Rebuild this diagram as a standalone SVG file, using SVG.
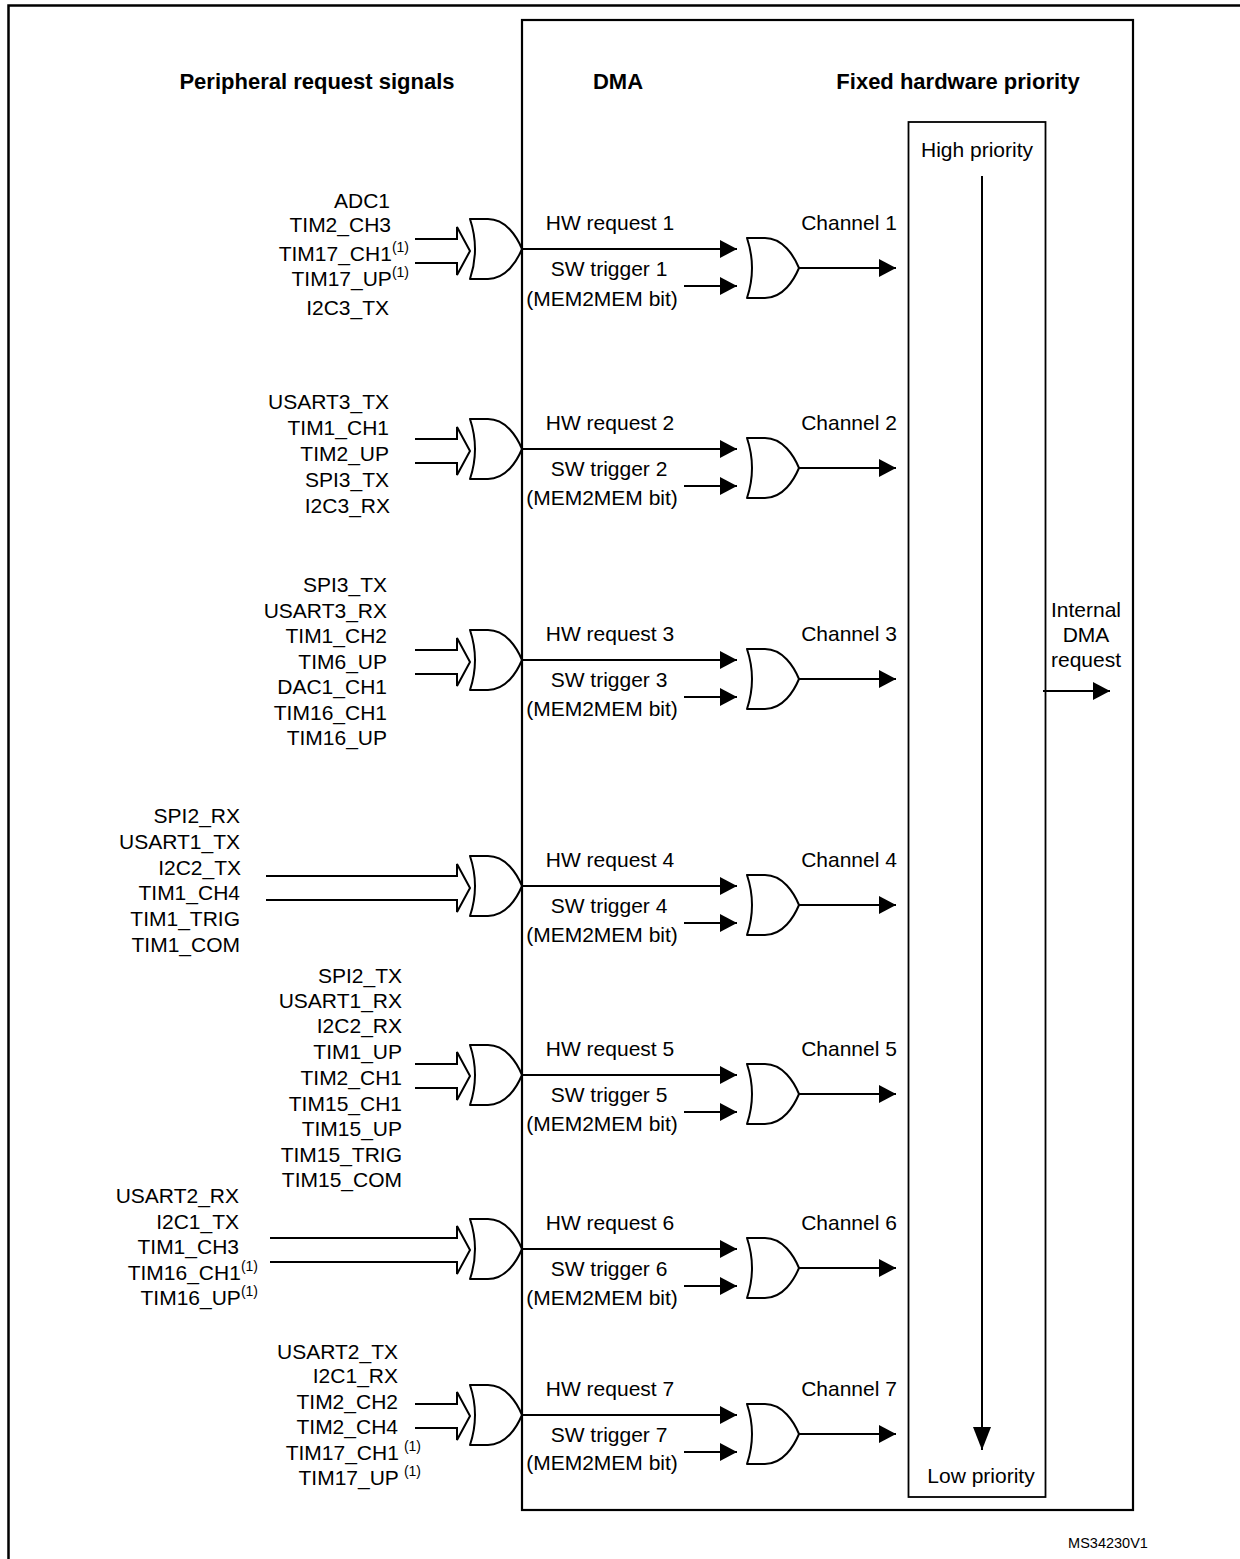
<svg xmlns="http://www.w3.org/2000/svg" xmlns:xlink="http://www.w3.org/1999/xlink" width="1240" height="1559" viewBox="0 0 1240 1559">
<style>
.t{font-family:"Liberation Sans",Arial,sans-serif;font-size:21px;fill:#000}
.h{font-family:"Liberation Sans",Arial,sans-serif;font-size:22px;font-weight:bold;fill:#000}
.s{font-size:14px}
.e{text-anchor:end}
.m{text-anchor:middle}
.ln{fill:none;stroke:#000;stroke-width:2}
.ar{fill:none;stroke:#000;stroke-width:2;marker-end:url(#ah)}
.gate{fill:#fff;stroke:#000;stroke-width:2;stroke-linejoin:round}
</style>
<defs>
<marker id="ah" markerUnits="userSpaceOnUse" markerWidth="17" markerHeight="18" refX="17" refY="9" orient="auto"><path d="M0,0 L17,9 L0,18 Z" fill="#000"/></marker>
<marker id="ahv" markerUnits="userSpaceOnUse" markerWidth="23" markerHeight="18" refX="23" refY="9" orient="auto"><path d="M0,0 L23,9 L0,18 Z" fill="#000"/></marker>
<path id="or" d="M0,0 L18,0 C36,0 47,18 52,30 C47,42 36,60 18,60 L0,60 Q10,30 0,0 Z"/>
</defs>
<rect width="1240" height="1559" fill="#fff"/>

<g id="frame">
<path d="M8.5,1559 V5.5 H1240" fill="none" stroke="#000" stroke-width="2.5"/>
</g>

<g id="headers">
<text class="h m" x="317" y="89">Peripheral request signals</text>
<text class="h m" x="618" y="89">DMA</text>
<text class="h m" x="958" y="89">Fixed hardware priority</text>
</g>

<g id="dma">
<rect x="522" y="20" width="611" height="1490" fill="none" stroke="#000" stroke-width="2.2"/>
</g>

<g id="priority">
<rect x="908.5" y="122" width="137" height="1375" fill="none" stroke="#000" stroke-width="1.8"/>
<text class="t m" x="977" y="157">High priority</text>
<text class="t m" x="981" y="1483">Low priority</text>
</g>

<g id="internal-request">
<text class="t m" x="1086" y="617">Internal</text>
<text class="t m" x="1086" y="642">DMA</text>
<text class="t m" x="1086" y="667">request</text>
</g>

<g id="signals1">
<text class="t e" x="390" y="208">ADC1</text>
<text class="t e" x="391" y="232">TIM2_CH3</text>
<text class="t e" x="409" y="261">TIM17_CH1<tspan class="s" dy="-9">(1)</tspan></text>
<text class="t e" x="409" y="286">TIM17_UP<tspan class="s" dy="-9">(1)</tspan></text>
<text class="t e" x="389" y="315">I2C3_TX</text>
</g>
<g id="signals2">
<text class="t e" x="389" y="409">USART3_TX</text>
<text class="t e" x="389" y="435">TIM1_CH1</text>
<text class="t e" x="389" y="461">TIM2_UP</text>
<text class="t e" x="389" y="487">SPI3_TX</text>
<text class="t e" x="390" y="513">I2C3_RX</text>
</g>
<g id="signals3">
<text class="t e" x="387" y="592">SPI3_TX</text>
<text class="t e" x="387" y="618">USART3_RX</text>
<text class="t e" x="387" y="643">TIM1_CH2</text>
<text class="t e" x="387" y="669">TIM6_UP</text>
<text class="t e" x="387" y="694">DAC1_CH1</text>
<text class="t e" x="387" y="720">TIM16_CH1</text>
<text class="t e" x="387" y="745">TIM16_UP</text>
</g>
<g id="signals4">
<text class="t e" x="240" y="823">SPI2_RX</text>
<text class="t e" x="240" y="849">USART1_TX</text>
<text class="t e" x="241" y="875">I2C2_TX</text>
<text class="t e" x="240" y="900">TIM1_CH4</text>
<text class="t e" x="240" y="926">TIM1_TRIG</text>
<text class="t e" x="240" y="952">TIM1_COM</text>
</g>
<g id="signals5">
<text class="t e" x="402" y="983">SPI2_TX</text>
<text class="t e" x="402" y="1008">USART1_RX</text>
<text class="t e" x="402" y="1033">I2C2_RX</text>
<text class="t e" x="402" y="1059">TIM1_UP</text>
<text class="t e" x="402" y="1085">TIM2_CH1</text>
<text class="t e" x="402" y="1111">TIM15_CH1</text>
<text class="t e" x="402" y="1136">TIM15_UP</text>
<text class="t e" x="402" y="1162">TIM15_TRIG</text>
<text class="t e" x="402" y="1187">TIM15_COM</text>
</g>
<g id="signals6">
<text class="t e" x="239" y="1203">USART2_RX</text>
<text class="t e" x="239" y="1229">I2C1_TX</text>
<text class="t e" x="239" y="1254">TIM1_CH3</text>
<text class="t e" x="258" y="1280">TIM16_CH1<tspan class="s" dy="-9">(1)</tspan></text>
<text class="t e" x="258" y="1305">TIM16_UP<tspan class="s" dy="-9">(1)</tspan></text>
</g>
<g id="signals7">
<text class="t e" x="398" y="1359">USART2_TX</text>
<text class="t e" x="398" y="1383">I2C1_RX</text>
<text class="t e" x="398" y="1409">TIM2_CH2</text>
<text class="t e" x="398" y="1434">TIM2_CH4</text>
<text class="t e" x="421" y="1460">TIM17_CH1<tspan class="s" dx="5" dy="-9">(1)</tspan></text>
<text class="t e" x="421" y="1485">TIM17_UP<tspan class="s" dx="5" dy="-9">(1)</tspan></text>
</g>

<g id="channel1">
<use xlink:href="#or" class="gate" x="470" y="219"/>
<use xlink:href="#or" class="gate" x="747" y="238"/>
<text class="t m" x="610" y="230">HW request 1</text>
<text class="t m" x="609" y="276">SW trigger 1</text>
<text class="t m" x="602" y="306">(MEM2MEM bit)</text>
<text class="t m" x="849" y="230">Channel 1</text>
</g>
<g id="channel2">
<use xlink:href="#or" class="gate" x="470" y="419"/>
<use xlink:href="#or" class="gate" x="747" y="438"/>
<text class="t m" x="610" y="430">HW request 2</text>
<text class="t m" x="609" y="476">SW trigger 2</text>
<text class="t m" x="602" y="505">(MEM2MEM bit)</text>
<text class="t m" x="849" y="430">Channel 2</text>
</g>
<g id="channel3">
<use xlink:href="#or" class="gate" x="470" y="630"/>
<use xlink:href="#or" class="gate" x="747" y="649"/>
<text class="t m" x="610" y="641">HW request 3</text>
<text class="t m" x="609" y="687">SW trigger 3</text>
<text class="t m" x="602" y="716">(MEM2MEM bit)</text>
<text class="t m" x="849" y="641">Channel 3</text>
</g>
<g id="channel4">
<use xlink:href="#or" class="gate" x="470" y="856"/>
<use xlink:href="#or" class="gate" x="747" y="875"/>
<text class="t m" x="610" y="867">HW request 4</text>
<text class="t m" x="609" y="913">SW trigger 4</text>
<text class="t m" x="602" y="942">(MEM2MEM bit)</text>
<text class="t m" x="849" y="867">Channel 4</text>
</g>
<g id="channel5">
<use xlink:href="#or" class="gate" x="470" y="1045"/>
<use xlink:href="#or" class="gate" x="747" y="1064"/>
<text class="t m" x="610" y="1056">HW request 5</text>
<text class="t m" x="609" y="1102">SW trigger 5</text>
<text class="t m" x="602" y="1131">(MEM2MEM bit)</text>
<text class="t m" x="849" y="1056">Channel 5</text>
</g>
<g id="channel6">
<use xlink:href="#or" class="gate" x="470" y="1219"/>
<use xlink:href="#or" class="gate" x="747" y="1238"/>
<text class="t m" x="610" y="1230">HW request 6</text>
<text class="t m" x="609" y="1276">SW trigger 6</text>
<text class="t m" x="602" y="1305">(MEM2MEM bit)</text>
<text class="t m" x="849" y="1230">Channel 6</text>
</g>
<g id="channel7">
<use xlink:href="#or" class="gate" x="470" y="1385"/>
<use xlink:href="#or" class="gate" x="747" y="1404"/>
<text class="t m" x="610" y="1396">HW request 7</text>
<text class="t m" x="609" y="1442">SW trigger 7</text>
<text class="t m" x="602" y="1470">(MEM2MEM bit)</text>
<text class="t m" x="849" y="1396">Channel 7</text>
</g>

<g id="connectors">
<!-- bus arrows into input gates -->
<path class="ln" d="M415,239 H457 V227 L470,251 L457,275 V263 H415"/>
<path class="ln" d="M415,439 H457 V427 L470,451 L457,475 V463 H415"/>
<path class="ln" d="M415,650 H457 V638 L470,662 L457,686 V674 H415"/>
<path class="ln" d="M266,876 H457 V864 L470,888 L457,912 V900 H266"/>
<path class="ln" d="M415,1064 H457 V1052 L470,1076 L457,1100 V1088 H415"/>
<path class="ln" d="M270,1238 H457 V1226 L470,1250 L457,1274 V1262 H270"/>
<path class="ln" d="M415,1404 H457 V1392 L470,1416 L457,1440 V1428 H415"/>
<!-- HW requests -->
<path class="ar" d="M522,249 H737"/>
<path class="ar" d="M522,449 H737"/>
<path class="ar" d="M522,660 H737"/>
<path class="ar" d="M522,886 H737"/>
<path class="ar" d="M522,1075 H737"/>
<path class="ar" d="M522,1249 H737"/>
<path class="ar" d="M522,1415 H737"/>
<!-- SW triggers -->
<path class="ar" d="M684,286 H737"/>
<path class="ar" d="M684,486 H737"/>
<path class="ar" d="M684,697 H737"/>
<path class="ar" d="M684,923 H737"/>
<path class="ar" d="M684,1112 H737"/>
<path class="ar" d="M684,1286 H737"/>
<path class="ar" d="M684,1452 H737"/>
<!-- channel outputs -->
<path class="ar" d="M799,268 H896"/>
<path class="ar" d="M799,468 H896"/>
<path class="ar" d="M799,679 H896"/>
<path class="ar" d="M799,905 H896"/>
<path class="ar" d="M799,1094 H896"/>
<path class="ar" d="M799,1268 H896"/>
<path class="ar" d="M799,1434 H896"/>
<!-- priority arrow -->
<path d="M982,176 V1450" fill="none" stroke="#000" stroke-width="2" marker-end="url(#ahv)"/>
<!-- internal DMA request -->
<path class="ar" d="M1043,691 H1110"/>
</g>

<text x="1108" y="1548" text-anchor="middle" font-family="'Liberation Sans',Arial,sans-serif" font-size="14.5">MS34230V1</text>
</svg>
